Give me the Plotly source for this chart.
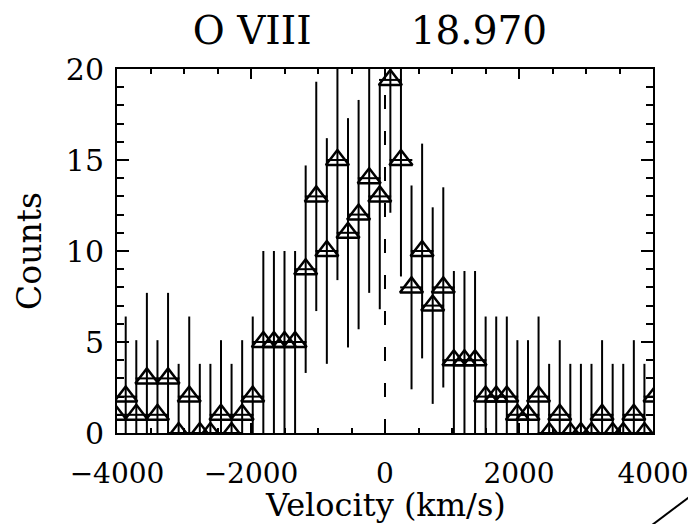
"""
plot.py - O VIII 18.970 line profile (counts vs velocity) with Plotly
"""
import plotly.graph_objects as go

# bin centres (km/s)
velocity = [
    -4028, -3870, -3712, -3554, -3396, -3238, -3080, -2922, -2764, -2606,
    -2448, -2290, -2132, -1974, -1816, -1658, -1500, -1342, -1184, -1026,
    -868, -710, -552, -394, -236, -78, 80, 238, 396, 554,
    712, 870, 1028, 1186, 1344, 1502, 1660, 1818, 1976, 2134,
    2292, 2450, 2608, 2766, 2924, 3082, 3240, 3398, 3556, 3714,
    3872, 4030,
]
counts = [
    1, 2, 1, 3, 1, 3, 0, 2, 0, 0,
    1, 0, 1, 2, 5, 5, 5, 5, 9, 13,
    10, 15, 11, 12, 14, 13, 19.4, 15, 8, 10,
    7, 8, 4, 4, 4, 2, 2, 2, 1, 1,
    2, 0, 1, 0, 0, 0, 1, 0, 0, 1,
    0, 2,
]
count_err = [
    4.1, 4.4, 4.1, 4.7, 4.1, 4.7, 3.8, 4.4, 3.8, 3.8,
    4.1, 3.8, 4.1, 4.4, 5.0, 5.0, 5.0, 5.0, 5.7, 6.3,
    6.2, 6.6, 6.3, 6.3, 6.3, 6.2, 7.3, 6.4, 5.6, 5.9,
    5.4, 5.5, 4.9, 4.9, 4.9, 4.4, 4.4, 4.4, 4.1, 4.1,
    4.4, 3.8, 4.1, 3.8, 3.8, 3.8, 4.1, 3.8, 3.8, 4.1,
    3.8, 4.4,
]
bin_halfwidth = 170

ion_label = "O VIII"
wavelength_label = "18.970"
x_label = "Velocity (km/s)"
y_label = "Counts"

FONT = "DejaVu Serif"

fig = go.Figure()

fig.add_trace(go.Scatter(
    x=velocity,
    y=counts,
    mode="markers",
    marker=dict(symbol="triangle-up-open", size=20, color="black",
                line=dict(width=2.5, color="black")),
    error_y=dict(type="data", array=count_err, visible=True,
                 thickness=2, width=0, color="black"),
    error_x=dict(type="constant", value=bin_halfwidth, visible=True,
                 thickness=2, width=0, color="black"),
    hovertemplate="v = %{x} km/s<br>counts = %{y}<extra></extra>",
    showlegend=False,
))

# rest velocity of the line
fig.add_shape(type="line", xref="x", yref="y", x0=0, x1=0, y0=0, y1=20,
              line=dict(color="black", width=2, dash="14px,22px"))

# stray stroke from the neighbouring panel, bottom right corner
fig.add_shape(type="line", xref="paper", yref="paper",
              x0=0.981, y0=-0.272, x1=1.080, y1=-0.162,
              line=dict(color="black", width=2))

# x title as an annotation: with automargin off the axis title ignores standoff
fig.add_annotation(text=x_label, xref="paper", yref="paper",
                   x=0.5, y=-0.197, xanchor="center", yanchor="middle",
                   showarrow=False,
                   font=dict(family=FONT, size=32, color="black"))

nbsp = "\u00a0"
# page body keeps its 8px margin all round, so figure + margin = 696x532
fig.update_layout(
    title=dict(text=ion_label + nbsp * 8 + wavelength_label,
               x=0.472, xref="paper", xanchor="center",
               y=0.957, yref="container", yanchor="middle",
               font=dict(family=FONT, size=39, color="black")),
    width=680, height=516,
    margin=dict(l=109, r=35, t=61, b=91),
    plot_bgcolor="white", paper_bgcolor="white",
    font=dict(family=FONT, color="black"),
    xaxis=dict(
        range=[-4000, 4000], tick0=0, dtick=2000,
        ticks="inside", ticklen=10, tickwidth=2, tickcolor="black",
        minor=dict(dtick=500, tick0=0, ticks="inside", ticklen=5,
                   tickwidth=1.5, tickcolor="black"),
        showline=True, linewidth=2, linecolor="black", mirror="ticks",
        showgrid=False, zeroline=False, automargin=False,
        tickfont=dict(family=FONT, size=28, color="black"),
        ticklabelstandoff=14, ticklabeloverflow="allow",
    ),
    yaxis=dict(
        range=[0, 20], tick0=0, dtick=5,
        ticks="inside", ticklen=12, tickwidth=2, tickcolor="black",
        minor=dict(dtick=1, tick0=0, ticks="inside", ticklen=7,
                   tickwidth=1.5, tickcolor="black"),
        showline=True, linewidth=2, linecolor="black", mirror="ticks",
        showgrid=False, zeroline=False, automargin=False,
        tickfont=dict(family=FONT, size=30, color="black"),
        ticklabelstandoff=5,
        title=dict(text=y_label, standoff=14,
                   font=dict(family=FONT, size=33, color="black")),
    ),
)

fig.write_html("out.html")
